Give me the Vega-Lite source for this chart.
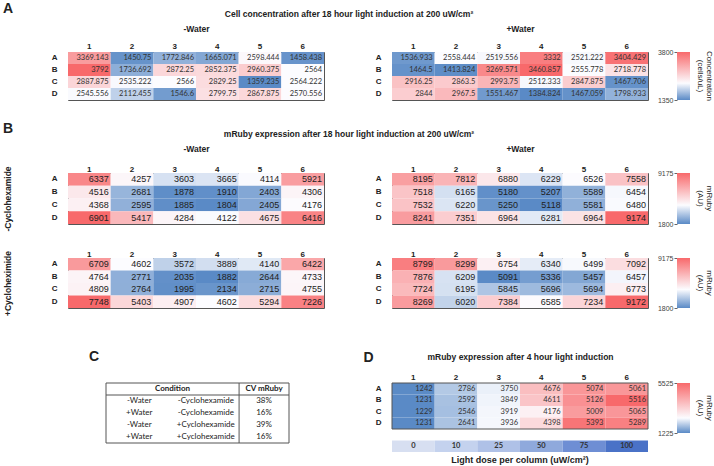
{
"$schema": "https://vega.github.io/schema/vega-lite/v6.json",
"padding": {"left": 2, "top": 1, "right": 0, "bottom": 0},
"columns": 3,
"spacing": {"row": 34, "column": 29},
"bounds": "flush",
"align": "each",
"resolve": {"scale": {"x": "independent", "y": "independent", "color": "independent"}, "axis": {"x": "independent", "y": "independent"}},
"datasets": {
"am": [{"row":"A","col":"1","v":3369.143},{"row":"A","col":"2","v":1450.75},{"row":"A","col":"3","v":1772.846},{"row":"A","col":"4","v":1665.071},{"row":"A","col":"5","v":2598.444},{"row":"A","col":"6","v":1458.438},
{"row":"B","col":"1","v":3792},{"row":"B","col":"2","v":1736.692},{"row":"B","col":"3","v":2872.25},{"row":"B","col":"4","v":2852.375},{"row":"B","col":"5","v":2960.375},{"row":"B","col":"6","v":2564},
{"row":"C","col":"1","v":2887.875},{"row":"C","col":"2","v":2535.222},{"row":"C","col":"3","v":2566},{"row":"C","col":"4","v":2829.25},{"row":"C","col":"5","v":1359.235},{"row":"C","col":"6","v":2564.222},
{"row":"D","col":"1","v":2545.556},{"row":"D","col":"2","v":2112.455},{"row":"D","col":"3","v":1546.6},{"row":"D","col":"4","v":2799.75},{"row":"D","col":"5","v":2867.875},{"row":"D","col":"6","v":2570.556}],
"ap": [{"row":"A","col":"1","v":1536.933},{"row":"A","col":"2","v":2558.444},{"row":"A","col":"3","v":2519.556},{"row":"A","col":"4","v":3332},{"row":"A","col":"5","v":2521.222},{"row":"A","col":"6","v":3404.429},
{"row":"B","col":"1","v":1464.5},{"row":"B","col":"2","v":1413.824},{"row":"B","col":"3","v":3269.571},{"row":"B","col":"4","v":3460.857},{"row":"B","col":"5","v":2555.778},{"row":"B","col":"6","v":2718.778},
{"row":"C","col":"1","v":2916.25},{"row":"C","col":"2","v":2863.5},{"row":"C","col":"3","v":2993.75},{"row":"C","col":"4","v":2512.333},{"row":"C","col":"5","v":2847.875},{"row":"C","col":"6","v":1467.706},
{"row":"D","col":"1","v":2844},{"row":"D","col":"2","v":2967.5},{"row":"D","col":"3","v":1551.467},{"row":"D","col":"4","v":1384.824},{"row":"D","col":"5","v":1467.059},{"row":"D","col":"6","v":1798.933}],
"b1m": [{"row":"A","col":"1","v":6337},{"row":"A","col":"2","v":4257},{"row":"A","col":"3","v":3603},{"row":"A","col":"4","v":3665},{"row":"A","col":"5","v":4114},{"row":"A","col":"6","v":5921},
{"row":"B","col":"1","v":4516},{"row":"B","col":"2","v":2681},{"row":"B","col":"3","v":1878},{"row":"B","col":"4","v":1910},{"row":"B","col":"5","v":2403},{"row":"B","col":"6","v":4306},
{"row":"C","col":"1","v":4368},{"row":"C","col":"2","v":2595},{"row":"C","col":"3","v":1885},{"row":"C","col":"4","v":1804},{"row":"C","col":"5","v":2405},{"row":"C","col":"6","v":4176},
{"row":"D","col":"1","v":6901},{"row":"D","col":"2","v":5417},{"row":"D","col":"3","v":4284},{"row":"D","col":"4","v":4122},{"row":"D","col":"5","v":4675},{"row":"D","col":"6","v":6416}],
"b1p": [{"row":"A","col":"1","v":8195},{"row":"A","col":"2","v":7812},{"row":"A","col":"3","v":6880},{"row":"A","col":"4","v":6229},{"row":"A","col":"5","v":6526},{"row":"A","col":"6","v":7558},
{"row":"B","col":"1","v":7518},{"row":"B","col":"2","v":6165},{"row":"B","col":"3","v":5180},{"row":"B","col":"4","v":5207},{"row":"B","col":"5","v":5589},{"row":"B","col":"6","v":6454},
{"row":"C","col":"1","v":7532},{"row":"C","col":"2","v":6220},{"row":"C","col":"3","v":5250},{"row":"C","col":"4","v":5118},{"row":"C","col":"5","v":5581},{"row":"C","col":"6","v":6480},
{"row":"D","col":"1","v":8241},{"row":"D","col":"2","v":7351},{"row":"D","col":"3","v":6964},{"row":"D","col":"4","v":6281},{"row":"D","col":"5","v":6964},{"row":"D","col":"6","v":9174}],
"b2m": [{"row":"A","col":"1","v":6709},{"row":"A","col":"2","v":4602},{"row":"A","col":"3","v":3572},{"row":"A","col":"4","v":3889},{"row":"A","col":"5","v":4140},{"row":"A","col":"6","v":6422},
{"row":"B","col":"1","v":4764},{"row":"B","col":"2","v":2771},{"row":"B","col":"3","v":2035},{"row":"B","col":"4","v":1882},{"row":"B","col":"5","v":2644},{"row":"B","col":"6","v":4733},
{"row":"C","col":"1","v":4809},{"row":"C","col":"2","v":2764},{"row":"C","col":"3","v":1995},{"row":"C","col":"4","v":2134},{"row":"C","col":"5","v":2715},{"row":"C","col":"6","v":4755},
{"row":"D","col":"1","v":7748},{"row":"D","col":"2","v":5403},{"row":"D","col":"3","v":4907},{"row":"D","col":"4","v":4602},{"row":"D","col":"5","v":5294},{"row":"D","col":"6","v":7226}],
"b2p": [{"row":"A","col":"1","v":8799},{"row":"A","col":"2","v":8299},{"row":"A","col":"3","v":6754},{"row":"A","col":"4","v":6340},{"row":"A","col":"5","v":6499},{"row":"A","col":"6","v":7092},
{"row":"B","col":"1","v":7876},{"row":"B","col":"2","v":6209},{"row":"B","col":"3","v":5091},{"row":"B","col":"4","v":5336},{"row":"B","col":"5","v":5457},{"row":"B","col":"6","v":6457},
{"row":"C","col":"1","v":7724},{"row":"C","col":"2","v":6195},{"row":"C","col":"3","v":5845},{"row":"C","col":"4","v":5696},{"row":"C","col":"5","v":5694},{"row":"C","col":"6","v":6773},
{"row":"D","col":"1","v":8269},{"row":"D","col":"2","v":6020},{"row":"D","col":"3","v":7384},{"row":"D","col":"4","v":6585},{"row":"D","col":"5","v":7234},{"row":"D","col":"6","v":9172}],
"dd": [{"row":"A","col":"1","v":1242},{"row":"A","col":"2","v":2786},{"row":"A","col":"3","v":3750},{"row":"A","col":"4","v":4676},{"row":"A","col":"5","v":5074},{"row":"A","col":"6","v":5061},
{"row":"B","col":"1","v":1231},{"row":"B","col":"2","v":2592},{"row":"B","col":"3","v":3849},{"row":"B","col":"4","v":4611},{"row":"B","col":"5","v":5126},{"row":"B","col":"6","v":5516},
{"row":"C","col":"1","v":1229},{"row":"C","col":"2","v":2546},{"row":"C","col":"3","v":3919},{"row":"C","col":"4","v":4176},{"row":"C","col":"5","v":5009},{"row":"C","col":"6","v":5065},
{"row":"D","col":"1","v":1231},{"row":"D","col":"2","v":2641},{"row":"D","col":"3","v":3936},{"row":"D","col":"4","v":4398},{"row":"D","col":"5","v":5393},{"row":"D","col":"6","v":5289}],
"dose": [{"row":"dose","col":"1","dose":0},{"row":"dose","col":"2","dose":10},{"row":"dose","col":"3","dose":25},{"row":"dose","col":"4","dose":50},{"row":"dose","col":"5","dose":75},{"row":"dose","col":"6","dose":100}],
"tbl": [{"row":"r1","water":"-Water","cyclo":"-Cyclohexamide","cv":"38%"},{"row":"r2","water":"+Water","cyclo":"-Cyclohexamide","cv":"16%"},{"row":"r3","water":"-Water","cyclo":"+Cyclohexamide","cv":"39%"},{"row":"r4","water":"+Water","cyclo":"+Cyclohexamide","cv":"16%"}]
},
"concat": [
{
 "width": 256, "height": 48,
 "data": {"name": "am"},
 "title": {"text": "A", "anchor": "start", "frame": "group", "dx": -65, "fontSize": 14, "offset": 8},
 "encoding": {
  "x": {"field": "col", "type": "ordinal", "scale": {"type": "band", "paddingInner": 0, "paddingOuter": 0}, "axis": {"orient": "top", "title": "-Water", "labelAngle": 0, "labelPadding": 2, "titlePadding": 9}},
  "y": {"field": "row", "type": "ordinal", "scale": {"type": "band", "paddingInner": 0, "paddingOuter": 0}, "axis": {"title": null, "labelPadding": 11}}
 },
 "layer": [
  {"mark": "rect", "encoding": {"color": {"field": "v", "type": "quantitative", "scale": {"domain": [1359.235, 2565.111, 3792], "range": ["#5A8AC6", "#FCFCFF", "#F8696B"], "interpolate": "rgb"}, "legend": null}}},
  {"mark": {"type": "text", "align": "right", "baseline": "middle", "dx": -2, "font": "Lato", "fontSize": 7.5, "color": "#333"}, "encoding": {"x": {"field": "col", "type": "ordinal", "bandPosition": 1}, "text": {"field": "v", "type": "nominal"}}}
 ]
},
{
 "width": 256, "height": 48,
 "data": {"name": "ap"},
 "title": {"text": "Cell concentration after 18 hour light induction at 200 uW/cm²", "anchor": "middle", "frame": "group", "dx": -171, "fontSize": 8.5, "offset": 6},
 "encoding": {
  "x": {"field": "col", "type": "ordinal", "scale": {"type": "band", "paddingInner": 0, "paddingOuter": 0}, "axis": {"orient": "top", "title": "+Water", "labelAngle": 0, "labelPadding": 2, "titlePadding": 9}},
  "y": {"field": "row", "type": "ordinal", "scale": {"type": "band", "paddingInner": 0, "paddingOuter": 0}, "axis": {"title": null, "labelPadding": 11}}
 },
 "layer": [
  {"mark": "rect", "encoding": {"color": {"field": "v", "type": "quantitative", "scale": {"domain": [1384.824, 2557.111, 3460.857], "range": ["#5A8AC6", "#FCFCFF", "#F8696B"], "interpolate": "rgb"}, "legend": null}}},
  {"mark": {"type": "text", "align": "right", "baseline": "middle", "dx": -2, "font": "Lato", "fontSize": 7.5, "color": "#333"}, "encoding": {"x": {"field": "col", "type": "ordinal", "bandPosition": 1}, "text": {"field": "v", "type": "nominal"}}}
 ]
},
{
 "width": 13, "height": 48,
 "data": {"values": [{"lo": 1350, "hi": 3800}]},
 "view": {"stroke": null},
 "title": {"text": ["Concentration", "(cells/uL)"], "orient": "right", "fontSize": 8, "fontWeight": "normal", "offset": 6, "lineHeight": 9},
 "mark": {"type": "rect", "color": {"gradient": "linear", "x1": 0, "y1": 1, "x2": 0, "y2": 0, "stops": [{"offset": 0, "color": "#5A8AC6"}, {"offset": 0.35, "color": "#FCFCFF"}, {"offset": 1, "color": "#F8696B"}]}},
 "encoding": {
  "y": {"field": "lo", "type": "quantitative", "scale": {"domain": [1350, 3800], "nice": false, "zero": false}, "axis": {"values": [1350, 3800], "format": "d", "ticks": true, "tickSize": 3, "tickColor": "#666", "labelFontWeight": "normal", "labelFontSize": 7, "labelPadding": 1, "labelColor": "#444", "title": null, "labelFlush": false}},
  "y2": {"field": "hi"}
 }
},
{"width": 1, "height": 5, "data": {"values": []}, "mark": "rect", "encoding": {}, "view": {"stroke": null}},
{"width": 1, "height": 5, "data": {"values": []}, "mark": "rect", "encoding": {}, "view": {"stroke": null}},
{"width": 1, "height": 5, "data": {"values": []}, "mark": "rect", "encoding": {}, "view": {"stroke": null}},
{
 "width": 256, "height": 51,
 "data": {"name": "b1m"},
 "title": {"text": "B", "anchor": "start", "frame": "group", "dx": -65, "fontSize": 14, "offset": 8},
 "encoding": {
  "x": {"field": "col", "type": "ordinal", "scale": {"type": "band", "paddingInner": 0, "paddingOuter": 0}, "axis": {"orient": "top", "title": "-Water", "labelAngle": 0, "labelPadding": 0, "titlePadding": 12}},
  "y": {"field": "row", "type": "ordinal", "scale": {"type": "band", "paddingInner": 0, "paddingOuter": 0}, "axis": {"title": "-Cyclohexamide", "labelPadding": 11, "titlePadding": 39}}
 },
 "layer": [
  {"mark": "rect", "encoding": {"color": {"field": "v", "type": "quantitative", "scale": {"domain": [1804, 4149, 6901], "range": ["#5A8AC6", "#FCFCFF", "#F8696B"], "interpolate": "rgb"}, "legend": null}}},
  {"mark": {"type": "text", "align": "right", "baseline": "middle", "dx": -2, "fontSize": 9, "color": "#222"}, "encoding": {"x": {"field": "col", "type": "ordinal", "bandPosition": 1}, "text": {"field": "v", "type": "nominal"}}}
 ]
},
{
 "width": 256, "height": 51,
 "data": {"name": "b1p"},
 "title": {"text": "mRuby expression after 18 hour light induction at 200 uW/cm²", "anchor": "middle", "frame": "group", "dx": -171, "fontSize": 8.5, "offset": 6},
 "encoding": {
  "x": {"field": "col", "type": "ordinal", "scale": {"type": "band", "paddingInner": 0, "paddingOuter": 0}, "axis": {"orient": "top", "title": "+Water", "labelAngle": 0, "labelPadding": 0, "titlePadding": 12}},
  "y": {"field": "row", "type": "ordinal", "scale": {"type": "band", "paddingInner": 0, "paddingOuter": 0}, "axis": {"title": null, "labelPadding": 11}}
 },
 "layer": [
  {"mark": "rect", "encoding": {"color": {"field": "v", "type": "quantitative", "scale": {"domain": [5118, 6503, 9174], "range": ["#5A8AC6", "#FCFCFF", "#F8696B"], "interpolate": "rgb"}, "legend": null}}},
  {"mark": {"type": "text", "align": "right", "baseline": "middle", "dx": -2, "fontSize": 9, "color": "#222"}, "encoding": {"x": {"field": "col", "type": "ordinal", "bandPosition": 1}, "text": {"field": "v", "type": "nominal"}}}
 ]
},
{
 "width": 13, "height": 51,
 "data": {"values": [{"lo": 1800, "hi": 9175}]},
 "view": {"stroke": null},
 "title": {"text": ["mRuby", "(AU)"], "orient": "right", "fontSize": 8, "fontWeight": "normal", "offset": 6, "lineHeight": 9},
 "mark": {"type": "rect", "color": {"gradient": "linear", "x1": 0, "y1": 1, "x2": 0, "y2": 0, "stops": [{"offset": 0, "color": "#5A8AC6"}, {"offset": 0.37, "color": "#FCFCFF"}, {"offset": 1, "color": "#F8696B"}]}},
 "encoding": {
  "y": {"field": "lo", "type": "quantitative", "scale": {"domain": [1800, 9175], "nice": false, "zero": false}, "axis": {"values": [1800, 9175], "format": "d", "ticks": true, "tickSize": 3, "tickColor": "#666", "labelFontWeight": "normal", "labelFontSize": 7, "labelPadding": 1, "labelColor": "#444", "title": null, "labelFlush": false}},
  "y2": {"field": "hi"}
 }
},
{
 "width": 256, "height": 50,
 "data": {"name": "b2m"},
 "encoding": {
  "x": {"field": "col", "type": "ordinal", "scale": {"type": "band", "paddingInner": 0, "paddingOuter": 0}, "axis": {"orient": "top", "title": null, "labelAngle": 0, "labelPadding": 0}},
  "y": {"field": "row", "type": "ordinal", "scale": {"type": "band", "paddingInner": 0, "paddingOuter": 0}, "axis": {"title": "+Cycloheximide", "labelPadding": 11, "titlePadding": 39}}
 },
 "layer": [
  {"mark": "rect", "encoding": {"color": {"field": "v", "type": "quantitative", "scale": {"domain": [1882, 4602, 7748], "range": ["#5A8AC6", "#FCFCFF", "#F8696B"], "interpolate": "rgb"}, "legend": null}}},
  {"mark": {"type": "text", "align": "right", "baseline": "middle", "dx": -2, "fontSize": 9, "color": "#222"}, "encoding": {"x": {"field": "col", "type": "ordinal", "bandPosition": 1}, "text": {"field": "v", "type": "nominal"}}}
 ]
},
{
 "width": 256, "height": 50,
 "data": {"name": "b2p"},
 "encoding": {
  "x": {"field": "col", "type": "ordinal", "scale": {"type": "band", "paddingInner": 0, "paddingOuter": 0}, "axis": {"orient": "top", "title": null, "labelAngle": 0, "labelPadding": 0}},
  "y": {"field": "row", "type": "ordinal", "scale": {"type": "band", "paddingInner": 0, "paddingOuter": 0}, "axis": {"title": null, "labelPadding": 11}}
 },
 "layer": [
  {"mark": "rect", "encoding": {"color": {"field": "v", "type": "quantitative", "scale": {"domain": [5091, 6542, 9172], "range": ["#5A8AC6", "#FCFCFF", "#F8696B"], "interpolate": "rgb"}, "legend": null}}},
  {"mark": {"type": "text", "align": "right", "baseline": "middle", "dx": -2, "fontSize": 9, "color": "#222"}, "encoding": {"x": {"field": "col", "type": "ordinal", "bandPosition": 1}, "text": {"field": "v", "type": "nominal"}}}
 ]
},
{
 "width": 13, "height": 50,
 "data": {"values": [{"lo": 1800, "hi": 9175}]},
 "view": {"stroke": null},
 "title": {"text": ["mRuby", "(AU)"], "orient": "right", "fontSize": 8, "fontWeight": "normal", "offset": 6, "lineHeight": 9},
 "mark": {"type": "rect", "color": {"gradient": "linear", "x1": 0, "y1": 1, "x2": 0, "y2": 0, "stops": [{"offset": 0, "color": "#5A8AC6"}, {"offset": 0.37, "color": "#FCFCFF"}, {"offset": 1, "color": "#F8696B"}]}},
 "encoding": {
  "y": {"field": "lo", "type": "quantitative", "scale": {"domain": [1800, 9175], "nice": false, "zero": false}, "axis": {"values": [1800, 9175], "format": "d", "ticks": true, "tickSize": 3, "tickColor": "#666", "labelFontWeight": "normal", "labelFontSize": 7, "labelPadding": 1, "labelColor": "#444", "title": null, "labelFlush": false}},
  "y2": {"field": "hi"}
 }
},
{"width": 1, "height": 7, "data": {"values": []}, "mark": "rect", "encoding": {}, "view": {"stroke": null}},
{"width": 1, "height": 7, "data": {"values": []}, "mark": "rect", "encoding": {}, "view": {"stroke": null}},
{"width": 1, "height": 7, "data": {"values": []}, "mark": "rect", "encoding": {}, "view": {"stroke": null}},
{
 "width": 295, "height": 60,
 "view": {"stroke": null},
 "title": {"text": "C", "anchor": "start", "frame": "group", "dx": 21, "fontSize": 14, "offset": 19},
 "layer": [
  {"data": {"values": [{}]}, "mark": {"type": "rect", "fill": "white", "stroke": "#555", "strokeWidth": 1},
   "encoding": {
    "x": {"datum": "c1", "type": "ordinal", "bandPosition": 0, "scale": {"type": "band", "domain": ["c1","c2","c3","c4","c5","c6","c7","c8","c9","c10","c11"], "range": [38, 221], "paddingInner": 0, "paddingOuter": 0}, "axis": null},
    "x2": {"datum": "c11", "bandPosition": 1},
    "y": {"datum": "h", "type": "ordinal", "bandPosition": 0, "scale": {"type": "band", "domain": ["h","r1","r2","r3","r4"], "paddingInner": 0, "paddingOuter": 0}, "axis": null},
    "y2": {"datum": "r4", "bandPosition": 1}
   }},
  {"data": {"values": [{}]}, "mark": {"type": "rule", "stroke": "#555", "strokeWidth": 1},
   "encoding": {"x": {"datum": "c9", "type": "ordinal", "bandPosition": 0}, "y": {"datum": "h", "type": "ordinal", "bandPosition": 0}, "y2": {"datum": "r4", "bandPosition": 1}}},
  {"data": {"values": [{}]}, "mark": {"type": "rule", "stroke": "#555", "strokeWidth": 1},
   "encoding": {"y": {"datum": "r1", "type": "ordinal", "bandPosition": 0}, "x": {"datum": "c1", "type": "ordinal", "bandPosition": 0}, "x2": {"datum": "c11", "bandPosition": 1}}},
  {"data": {"values": [{"t": "Condition"}]}, "mark": {"type": "text", "font": "Lato", "fontSize": 8, "fontWeight": "bold", "color": "#222"},
   "encoding": {"x": {"datum": "c5", "type": "ordinal", "bandPosition": 0}, "y": {"datum": "h", "type": "ordinal"}, "text": {"field": "t", "type": "nominal"}}},
  {"data": {"values": [{"t": "CV mRuby"}]}, "mark": {"type": "text", "font": "Lato", "fontSize": 8, "fontWeight": "bold", "color": "#222"},
   "encoding": {"x": {"datum": "c10", "type": "ordinal", "bandPosition": 0.5}, "y": {"datum": "h", "type": "ordinal"}, "text": {"field": "t", "type": "nominal"}}},
  {"data": {"name": "tbl"}, "mark": {"type": "text", "font": "Lato", "fontSize": 8, "color": "#222"},
   "encoding": {"x": {"datum": "c3", "type": "ordinal", "bandPosition": 0}, "y": {"field": "row", "type": "ordinal"}, "text": {"field": "water", "type": "nominal"}}},
  {"data": {"name": "tbl"}, "mark": {"type": "text", "font": "Lato", "fontSize": 8, "color": "#222"},
   "encoding": {"x": {"datum": "c7", "type": "ordinal", "bandPosition": 0}, "y": {"field": "row", "type": "ordinal"}, "text": {"field": "cyclo", "type": "nominal"}}},
  {"data": {"name": "tbl"}, "mark": {"type": "text", "font": "Lato", "fontSize": 8, "color": "#222"},
   "encoding": {"x": {"datum": "c10", "type": "ordinal", "bandPosition": 0.5}, "y": {"field": "row", "type": "ordinal"}, "text": {"field": "cv", "type": "nominal"}}}
 ]
},
{
 "width": 256, "height": 69,
 "view": {"stroke": null},
 "title": {"text": "Light dose per column (uW/cm²)", "orient": "bottom", "fontSize": 9, "offset": 4},
 "encoding": {
  "x": {"field": "col", "type": "ordinal", "scale": {"type": "band", "domain": ["1","2","3","4","5","6"], "paddingInner": 0, "paddingOuter": 0}, "axis": {"orient": "top", "title": "mRuby expression after 4 hour light induction", "labelAngle": 0, "labelPadding": 1.5, "titlePadding": 12}},
  "y": {"field": "row", "type": "ordinal", "scale": {"type": "band", "domain": ["A","B","C","D","gap","dose"], "paddingInner": 0, "paddingOuter": 0}, "axis": {"values": ["A","B","C","D"], "labelPadding": 11, "title": "D", "titleAngle": 0, "titleX": -29, "titleY": -26, "titleFontSize": 14, "titleAlign": "left", "titleBaseline": "middle"}}
 },
 "layer": [
  {"data": {"name": "dd"}, "mark": "rect", "encoding": {"color": {"field": "v", "type": "quantitative", "scale": {"domain": [1229, 4056, 5516], "range": ["#5A8AC6", "#FCFCFF", "#F8696B"], "interpolate": "rgb"}, "legend": null}}},
  {"data": {"name": "dd"}, "mark": {"type": "text", "align": "right", "baseline": "middle", "dx": -2, "font": "Lato", "fontSize": 7.5, "color": "#333"}, "encoding": {"x": {"field": "col", "type": "ordinal", "bandPosition": 1}, "text": {"field": "v", "type": "nominal"}}},
  {"data": {"values": [{}]}, "mark": {"type": "rect", "fill": "transparent", "stroke": "#555", "strokeWidth": 1},
   "encoding": {"x": {"datum": "1", "type": "ordinal", "bandPosition": 0}, "x2": {"datum": "6", "bandPosition": 1}, "y": {"datum": "A", "type": "ordinal", "bandPosition": 0}, "y2": {"datum": "D", "bandPosition": 1}}},
  {"data": {"name": "dose"}, "mark": "rect", "encoding": {"color": {"field": "dose", "type": "ordinal", "scale": {"domain": [0, 10, 25, 50, 75, 100], "range": ["#D7DFF1", "#C4D2EE", "#AFC1E7", "#8FA9DC", "#6E8ED4", "#4A72C7"]}, "legend": null}}},
  {"data": {"name": "dose"}, "mark": {"type": "text", "baseline": "middle", "font": "Lato", "fontSize": 7.5, "fontWeight": "bold", "color": "#333"}, "encoding": {"text": {"field": "dose", "type": "nominal"}}}
 ],
 "resolve": {"scale": {"color": "independent"}}
},
{
 "width": 13, "height": 50,
 "data": {"values": [{"lo": 1225, "hi": 5525}]},
 "view": {"stroke": null},
 "title": {"text": ["mRuby", "(AU)"], "orient": "right", "fontSize": 8, "fontWeight": "normal", "offset": 6, "lineHeight": 9},
 "mark": {"type": "rect", "color": {"gradient": "linear", "x1": 0, "y1": 1, "x2": 0, "y2": 0, "stops": [{"offset": 0, "color": "#5A8AC6"}, {"offset": 0.3, "color": "#FCFCFF"}, {"offset": 1, "color": "#F8696B"}]}},
 "encoding": {
  "y": {"field": "lo", "type": "quantitative", "scale": {"domain": [1225, 5525], "nice": false, "zero": false}, "axis": {"values": [1225, 5525], "format": "d", "ticks": true, "tickSize": 3, "tickColor": "#666", "labelFontWeight": "normal", "labelFontSize": 7, "labelPadding": 1, "labelColor": "#444", "title": null, "labelFlush": false}},
  "y2": {"field": "hi"}
 }
}
],
"config": {
 "font": "Liberation Sans",
 "view": {"stroke": "#555", "strokeWidth": 1},
 "axis": {"ticks": false, "domain": false, "grid": false, "labelFont": "Liberation Sans", "labelFontWeight": "bold", "labelFontSize": 8, "labelColor": "#222", "titleFont": "Liberation Sans", "titleFontSize": 8.5, "titleFontWeight": "bold", "titleColor": "#222"},
 "title": {"font": "Liberation Sans", "fontWeight": "bold", "color": "#222", "fontSize": 8.5},
 "text": {"font": "Liberation Sans"}
}
}
